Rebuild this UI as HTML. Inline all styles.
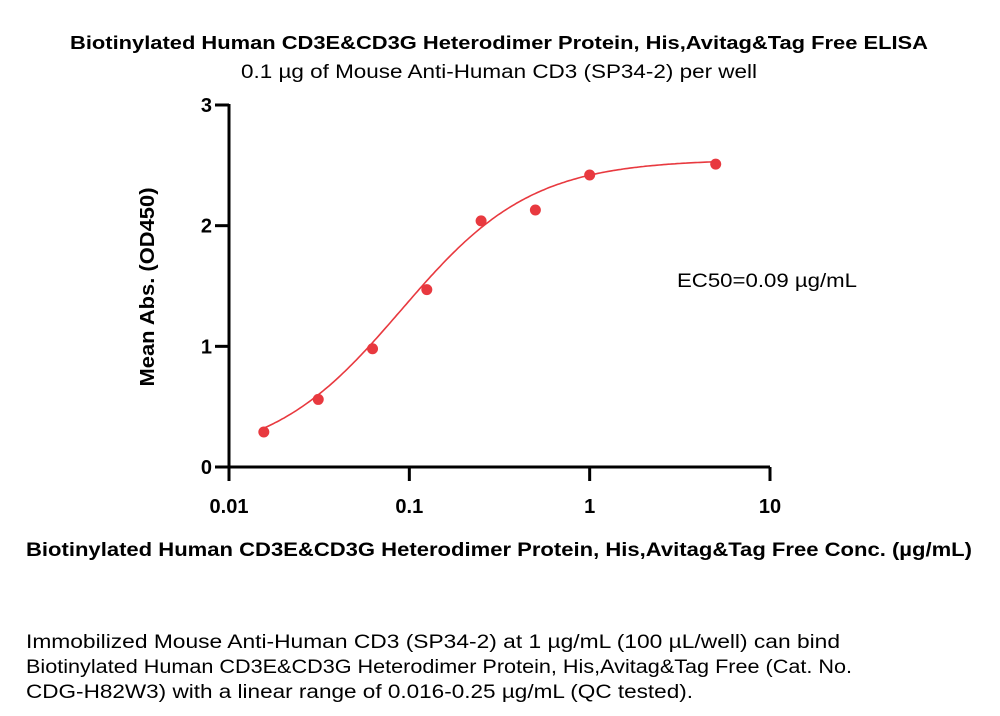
<!DOCTYPE html>
<html><head><meta charset="utf-8"><style>
body{margin:0;background:#fff;width:1000px;height:716px;overflow:hidden;font-family:"Liberation Sans",sans-serif}
svg{position:absolute;left:0;top:0}
text{font-family:"Liberation Sans",sans-serif}
</style></head><body>
<svg id="chart" width="1000" height="716">
<text x="70" y="49" textLength="858" lengthAdjust="spacingAndGlyphs" font-size="18" font-weight="bold" fill="#000">Biotinylated Human CD3E&amp;CD3G Heterodimer Protein, His,Avitag&amp;Tag Free ELISA</text>
<text x="241" y="78" textLength="516" lengthAdjust="spacingAndGlyphs" font-size="19" fill="#000">0.1 µg of Mouse Anti-Human CD3 (SP34-2) per well</text>
<text x="0" y="0" transform="translate(154,287) rotate(-90)" text-anchor="middle" textLength="199" lengthAdjust="spacingAndGlyphs" font-size="20" font-weight="bold">Mean Abs. (OD450)</text>
<text x="26" y="556" textLength="946" lengthAdjust="spacingAndGlyphs" font-size="19" font-weight="bold">Biotinylated Human CD3E&amp;CD3G Heterodimer Protein, His,Avitag&amp;Tag Free Conc. (µg/mL)</text>
<text x="677" y="287" textLength="180" lengthAdjust="spacingAndGlyphs" font-size="19">EC50=0.09 µg/mL</text>
<g id="axes"></g><g id="curve"></g><g id="points"></g>
<text font-size="19" fill="#000">
<tspan x="26" y="648" textLength="814" lengthAdjust="spacingAndGlyphs">Immobilized Mouse Anti-Human CD3 (SP34-2) at 1 µg/mL (100 µL/well) can bind</tspan>
<tspan x="26" y="673" textLength="826" lengthAdjust="spacingAndGlyphs">Biotinylated Human CD3E&amp;CD3G Heterodimer Protein, His,Avitag&amp;Tag Free (Cat. No.</tspan>
<tspan x="26" y="698" textLength="667" lengthAdjust="spacingAndGlyphs">CDG-H82W3) with a linear range of 0.016-0.25 µg/mL (QC tested).</tspan>
</text>
</svg>
<script>
const concs=[0.0156,0.03125,0.0625,0.125,0.25,0.5,1,5];
const ods=[0.29,0.56,0.98,1.47,2.04,2.13,2.42,2.51];
const xTicks=[0.01,0.1,1,10];
const xTickLabels=["0.01","0.1","1","10"];
const yTicks=[0,1,2,3];
const yTickLabels=["0","1","2","3"];
const fitBottom=0.05, fitTop=2.55, fitEC50=0.09, fitHill=1.2;
const NS="http://www.w3.org/2000/svg";
const X0=229,X1=770,Y0=467,Y1=105;
const xs=v=>X0+(Math.log10(v)-Math.log10(0.01))/3*(X1-X0);
const ys=v=>Y0-v/3*(Y0-Y1);
function mk(t,a,p){const e=document.createElementNS(NS,t);for(const k in a)e.setAttribute(k,a[k]);p.appendChild(e);return e;}
const ax=document.getElementById('axes');
let l=mk('line',{x1:X0,y1:Y1-1,x2:X0,y2:Y0+1.5,stroke:'#000','stroke-width':3},ax);


l=mk('line',{x1:X0-1.5,y1:Y0,x2:X1,y2:Y0,stroke:'#000','stroke-width':3},ax);


xTicks.forEach((v,i)=>{const x=xs(v);
 const t=mk('line',{x1:x,y1:Y0,x2:x,y2:Y0+14,stroke:'#000','stroke-width':3},ax);
 
 
 const tx=mk('text',{x:x,y:513,'text-anchor':'middle','font-size':20,'font-weight':'bold'},ax);tx.textContent=xTickLabels[i];
 
 });
yTicks.forEach((v,i)=>{const y=ys(v);
 const t=mk('line',{x1:X0-14,y1:y,x2:X0,y2:y,stroke:'#000','stroke-width':3},ax);
 
 
 const tx=mk('text',{x:X0-17,y:y+7,'text-anchor':'end','font-size':20,'font-weight':'bold'},ax);tx.textContent=yTickLabels[i];
 
 });
const f=c=>fitBottom+(fitTop-fitBottom)/(1+Math.pow(fitEC50/c,fitHill));
let d='';const lo=Math.log10(concs[0]),hi=Math.log10(concs[concs.length-1]);
for(let i=0;i<=200;i++){const c=Math.pow(10,lo+(hi-lo)*i/200);d+=(i?'L':'M')+xs(c).toFixed(1)+','+ys(f(c)).toFixed(1);}
const p=mk('path',{d:d,fill:'none',stroke:'#e8393f','stroke-width':1.6},document.getElementById('curve'));


const pg=document.getElementById('points');
concs.forEach((c,i)=>{const e=mk('circle',{cx:xs(c),cy:ys(ods[i]),r:5.5,fill:'#e8393f'},pg);
 
 });
</script>
</body></html>
